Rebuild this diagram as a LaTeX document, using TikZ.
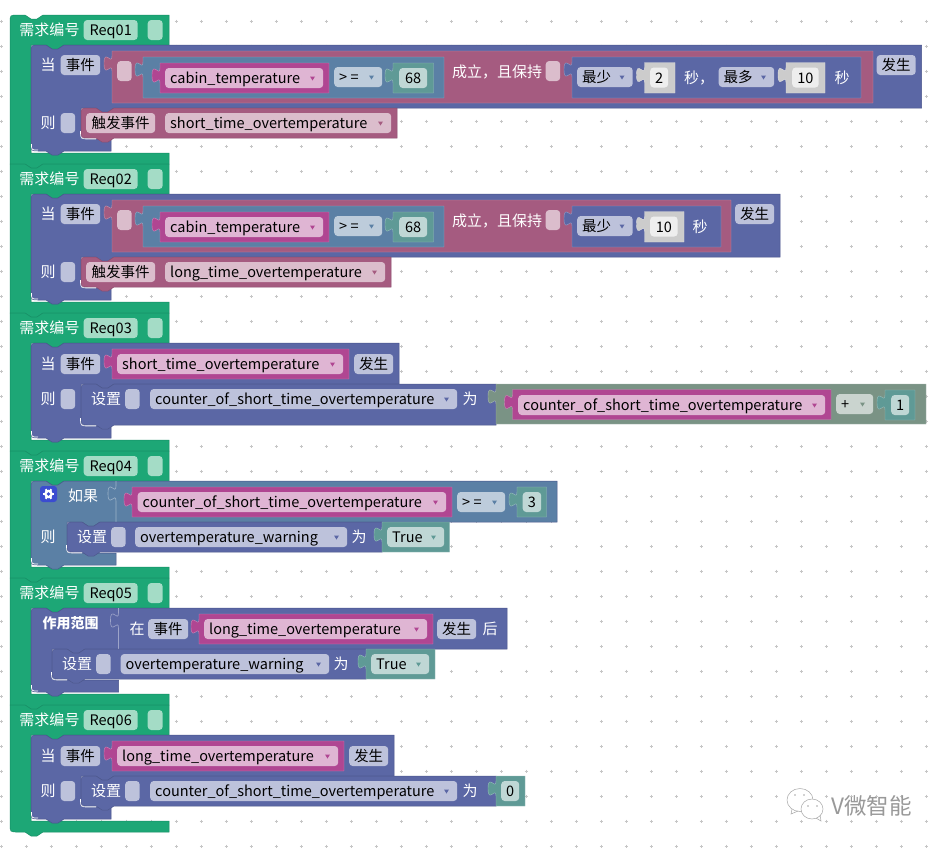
\documentclass[tikz,border=0pt]{standalone}
\usepackage{fontspec}
\setmainfont{Noto Sans CJK SC}
\usepackage{tikz}
\definecolor{reqG}{HTML}{1DA776}
\definecolor{reqGd}{HTML}{178F65}
\definecolor{reqGl}{HTML}{A4DCC6}
\definecolor{whenB}{HTML}{5B67A5}
\definecolor{whenBd}{HTML}{49548C}
\definecolor{whenBl}{HTML}{BDC2DB}
\definecolor{roseR}{HTML}{A55B80}
\definecolor{roseRl}{HTML}{DBBDCC}
\definecolor{magM}{HTML}{B04692}
\definecolor{magMl}{HTML}{DFB5D3}
\definecolor{steelS}{HTML}{5B80A5}
\definecolor{steelSl}{HTML}{BDCCDB}
\definecolor{tealT}{HTML}{5F9A96}
\definecolor{tealTl}{HTML}{BFD7D5}
\definecolor{sageA}{HTML}{7A9385}
\definecolor{sageAl}{HTML}{CAD4CF}
\definecolor{numG}{HTML}{CCCCCC}
\definecolor{numGl}{HTML}{EEEEEE}
\definecolor{gearB}{HTML}{3B4CD0}
\tikzset{
  chipbox/.style={rounded corners=3.5pt,minimum height=20pt,anchor=west,inner sep=0pt,font=\fontsize{14.5}{16}\selectfont,text height=12.5pt,text depth=1.5pt},
  fldtxt/.style={anchor=west,inner sep=0pt,font=\fontsize{14.5}{16}\selectfont,text height=12.5pt,text depth=1.5pt},
  lblW/.style={text=white,inner sep=0pt,font=\fontsize{15}{16}\selectfont,text height=12.5pt,text depth=1.5pt}
}
\newcommand{\reqB}[5]{
\fill[fill=reqG,draw=reqGd,line width=0.5pt] (10,#2+#4) .. controls (10,#2) .. (10+#4,#2) -- (25,#2) -- (31,#2+4) -- (37,#2+4) -- (43,#2) -- (169,#2) -- (169,#2+30) -- (64,#2+30) -- (58,#2+34) -- (52,#2+34) -- (46,#2+30) -- (31,#2+30) -- (31,#3-11) -- (169,#3-11) -- (169,#3) -- (43,#3) -- (37,#3+4) -- (31,#3+4) -- (25,#3) -- (10+#5,#3) .. controls (10,#3) .. (10,#3-#5) -- cycle;
\node[lblW] (hdr#1) at (49.5,#2+15) {需求编号};
\node[chipbox,fill=reqGl,minimum width=54] (req#1) at (83.5,#2+15) {Req0#1};
\node[chipbox,fill=reqGl,minimum width=15] (slot#1) at (147.5,#2+15) {};
}
\newcommand{\capB}[9]{
\fill[fill=#1,draw=whenBd,line width=0.5pt] (#2,#3+8) .. controls (#2,#3) .. (#2+8,#3) -- (#2+15,#3) -- (#2+21,#3+4) -- (#2+27,#3+4) -- (#2+33,#3) -- (#4,#3) -- (#4,#5) -- (#6+33,#5) -- (#6+27,#5+4) -- (#6+21,#5+4) -- (#6+15,#5) -- (#6,#5) -- (#6,#7-8) .. controls (#6,#7) .. (#6+8,#7) -- (#8,#7) -- (#8,#9) -- (#2+33,#9) -- (#2+27,#9+4) -- (#2+21,#9+4) -- (#2+15,#9) -- (#2+8,#9) .. controls (#2,#9) .. (#2,#9-8) -- cycle;
\draw[white,line width=0.7pt] (#2+0.5,#9-7) .. controls (#2+0.5,#9-1) .. (#2+7,#9-1);
}
\newcommand{\stmB}[5]{
\fill[fill=#1,draw=#1!85!black,line width=0.5pt] (#2,#3+8) .. controls (#2,#3) .. (#2+8,#3) -- (#2+15,#3) -- (#2+21,#3+4) -- (#2+27,#3+4) -- (#2+33,#3) -- (#4,#3) -- (#4,#5) -- (#2+33,#5) -- (#2+27,#5+4) -- (#2+21,#5+4) -- (#2+15,#5) -- (#2+8,#5) .. controls (#2,#5) .. (#2,#5-8) -- cycle;
\draw[white,line width=0.6pt] (#2-0.5,#5-7) .. controls (#2-0.5,#5+1) .. (#2+8,#5+1) -- (#2+15,#5+1);
}
\newcommand{\valB}[5]{
\fill[fill=#1,draw=#1!65!white,line width=0.4pt] (#2,#3) -- (#4,#3) -- (#4,#5) -- (#2,#5) -- (#2,#3+20) .. controls (#2,#3+10) and (#2-8,#3+28) .. (#2-8,#3+12.5) .. controls (#2-8,#3-3) and (#2,#3+15) .. (#2,#3+5) -- cycle;
}
\newcommand{\slotT}[3]{
\draw[#3,line width=0.6pt] (#1,#2) -- (#1,#2+5) .. controls (#1,#2+15) and (#1-8,#2-3) .. (#1-8,#2+12.5) .. controls (#1-8,#2+28) and (#1,#2+10) .. (#1,#2+20) -- (#1,#2+41);
}
\newcommand{\chipT}[6]{
\node[chipbox,fill=#5,minimum width=#3-#2] (#1) at (#2,#4+10) {#6};
}
\newcommand{\chipD}[7]{
\node[chipbox,fill=#5,minimum width=#3-#2] (#1) at (#2,#4+10) {};
\node[fldtxt] (#1t) at ([xshift=5pt]#1.west) {#7};
\fill[#6] (#3-13,#4+8.5) -- (#3-8,#4+8.5) -- (#3-10.5,#4+12.5) -- cycle;
}
\begin{document}
\begin{tikzpicture}[x=1pt,y=-1pt]
\useasboundingbox (0,0) rectangle (942,847);
\fill[white] (0,0) rectangle (942,847);
\foreach \gx in {1,26,...,926} \foreach \gy in {21,46,...,846} {
\draw[gray!45,line width=0.5pt] (\gx-1.5,\gy) -- (\gx+1.5,\gy) (\gx,\gy-1.5) -- (\gx,\gy+1.5);
}
\reqB{1}{15}{164}{8}{0}
\capB{whenB}{31}{45}{921.5}{108}{81}{139}{111}{151}
\node[lblW] (when1) at (48,65) {当};
\chipT{evt1}{60.5}{100}{55}{whenBl}{事件}
\valB{roseR}{112}{51}{873}{103}
\node[chipbox,fill=roseRl,minimum width=14.5] (rs1) at (117,71) {};
\valB{steelS}{143}{57}{444}{98}
\valB{magM}{160}{63}{329}{93}
\chipD{var1}{165}{323}{68}{magMl}{magM}{cabin\_temperature}
\chipD{op1}{334}{382}{67}{steelSl}{steelS}{> =}
\valB{tealT}{393}{63}{433.5}{93}
\chipT{num1}{399}{427}{68}{tealTl}{68}
\node[lblW] (hold1) at (497,72) {成立，且保持};
\node[chipbox,fill=roseRl,minimum width=14.5] (rs1b) at (545.5,71) {};
\valB{whenB}{572}{57}{861}{98}
\chipD{min1}{577}{632.5}{67}{whenBl}{whenB}{最少}
\valB{numG}{644.5}{62.5}{675}{93}
\chipT{num1a}{650}{668}{67.5}{numGl}{2}
\node[lblW] (sec1a) at (699,78) {秒，};
\chipD{max1}{718.5}{774}{67}{whenBl}{whenB}{最多}
\valB{numG}{786}{62.5}{825}{93}
\chipT{num1b}{792}{818.5}{67.5}{numGl}{10}
\node[lblW] (sec1b) at (842,78) {秒};
\chipT{occ1}{876.5}{915.5}{55}{whenBl}{发生}
\node[lblW] (then1) at (48,123) {则};
\node[chipbox,fill=whenBl,minimum width=14.5] (ts1) at (60.5,123) {};
\stmB{roseR}{81}{108}{397}{138}
\chipT{act1}{86}{155}{113}{roseRl}{触发事件}
\chipD{ev1}{165}{391}{113}{roseRl}{roseR}{short\_time\_overtemperature}

\reqB{2}{164}{313}{0}{0}
\capB{whenB}{31}{194}{780}{257}{81}{288}{111}{300}
\node[lblW] (when2) at (48,214) {当};
\chipT{evt2}{60.5}{100}{204}{whenBl}{事件}
\valB{roseR}{112}{200}{731}{252}
\node[chipbox,fill=roseRl,minimum width=14.5] (rs2) at (117,220) {};
\valB{steelS}{143}{206}{444}{247}
\valB{magM}{160}{212}{329}{242}
\chipD{var2}{165}{323}{217}{magMl}{magM}{cabin\_temperature}
\chipD{op2}{334}{382}{216}{steelSl}{steelS}{> =}
\valB{tealT}{393}{212}{433.5}{242}
\chipT{num2}{399}{427}{217}{tealTl}{68}
\node[lblW] (hold2) at (497,221) {成立，且保持};
\node[chipbox,fill=roseRl,minimum width=14.5] (rs2b) at (545.5,220) {};
\valB{whenB}{572}{206}{721}{247}
\chipD{min2}{577}{632.5}{216}{whenBl}{whenB}{最少}
\valB{numG}{644.5}{211.5}{684}{242}
\chipT{num2a}{650}{677.5}{216.5}{numGl}{10}
\node[lblW] (sec2) at (700,227) {秒};
\chipT{occ2}{735}{774}{204}{whenBl}{发生}
\node[lblW] (then2) at (48,272) {则};
\node[chipbox,fill=whenBl,minimum width=14.5] (ts2) at (60.5,272) {};
\stmB{roseR}{81}{257}{391}{287}
\chipT{act2}{86}{155}{262}{roseRl}{触发事件}
\chipD{ev2}{165}{385}{262}{roseRl}{roseR}{long\_time\_overtemperature}

\reqB{3}{313}{451}{0}{0}
\capB{whenB}{31}{343}{399}{384}{81}{426}{111}{438}
\node[lblW] (when3) at (48,364) {当};
\chipT{evt3}{60.5}{100}{354}{whenBl}{事件}
\valB{magM}{112}{349}{349}{379}
\chipD{ev3}{117}{343}{354}{magMl}{magM}{short\_time\_overtemperature}
\chipT{occ3}{354}{393}{354}{whenBl}{发生}
\node[lblW] (then3) at (48,399) {则};
\node[chipbox,fill=whenBl,minimum width=14.5] (ts3) at (60.5,399) {};
\stmB{whenB}{81}{384}{496}{425}
\node[lblW] (set3) at (106,399) {设置};
\node[chipbox,fill=whenBl,minimum width=14.5] (ss3) at (125,399) {};
\chipD{cnt3}{150}{457}{389}{whenBl}{whenB}{counter\_of\_short\_time\_overtemperature}
\node[lblW] (as3) at (470,399) {为};
\valB{sageA}{496}{384}{926}{424}
\valB{magM}{512.5}{389.5}{831}{419.5}
\chipD{cnt3b}{518}{825}{395}{magMl}{magM}{counter\_of\_short\_time\_overtemperature}
\chipD{op3}{836}{873}{394}{sageAl}{sageA}{+}
\valB{tealT}{885}{390}{915}{420}
\chipT{num3}{891}{909}{395}{tealTl}{1}

\reqB{4}{451}{578}{0}{0}
\capB{steelS}{31}{481}{557}{522}{67}{553}{116}{565}
\fill[fill=gearB,rounded corners=3pt] (40,486) rectangle (57,502);
\foreach \ga in {0,60,...,300} {
\draw[white,line width=2pt] (48.5,494) -- ++(\ga:5.5);
}
\fill[white] (48.5,494) circle (4.3);
\fill[gearB] (48.5,494) circle (1.9);
\node[lblW] (if4) at (83,496) {如果};
\slotT{116}{481}{steelS!60!white}
\valB{magM}{132}{487}{452}{517}
\chipD{cnt4}{137.5}{446}{492}{magMl}{magM}{counter\_of\_short\_time\_overtemperature}
\chipD{op4}{457}{505}{492}{steelSl}{steelS}{> =}
\valB{tealT}{517}{487}{546.5}{517}
\chipT{num4}{522.5}{541}{492}{tealTl}{3}
\node[lblW] (then4) at (48,537) {则};
\stmB{whenB}{67}{522}{382}{552}
\node[lblW] (set4) at (92,537) {设置};
\node[chipbox,fill=whenBl,minimum width=14.5] (ss4) at (111,537) {};
\chipD{warn4}{135}{347}{527}{whenBl}{whenB}{overtemperature\_warning}
\node[lblW] (as4) at (359,537) {为};
\valB{tealT}{382}{522}{449.5}{552}
\chipD{val4}{387}{444}{527}{tealTl}{tealT}{True}

\reqB{5}{578}{705}{0}{0}
\capB{whenB}{31}{608}{507}{649}{52}{680}{118.5}{692}
\node[lblW,font=\fontsize{14}{16}\bfseries] (scope5) at (70.5,623) {作用范围};
\slotT{118.5}{608}{whenB!60!white}
\node[lblW] (in5) at (137,629) {在};
\chipT{evt5}{148}{188}{619}{whenBl}{事件}
\valB{magM}{199}{614}{433}{644}
\chipD{ev5}{204}{427}{619}{magMl}{magM}{long\_time\_overtemperature}
\chipT{occ5}{437}{476}{619}{whenBl}{发生}
\node[lblW] (after5) at (490,629) {后};
\stmB{whenB}{52}{649}{366}{679}
\node[lblW] (set5) at (77,664) {设置};
\node[chipbox,fill=whenBl,minimum width=14.5] (ss5) at (96,664) {};
\chipD{warn5}{120.5}{329}{654}{whenBl}{whenB}{overtemperature\_warning}
\node[lblW] (as5) at (341,664) {为};
\valB{tealT}{366}{649}{435}{679}
\chipD{val5}{371}{429}{654}{tealTl}{tealT}{True}

\reqB{6}{705}{832}{0}{8}
\capB{whenB}{31}{735}{394}{776}{81}{807}{111}{819}
\node[lblW] (when6) at (48,756) {当};
\chipT{evt6}{60.5}{100}{746}{whenBl}{事件}
\valB{magM}{112}{741}{344}{771}
\chipD{ev6}{117}{338}{746}{magMl}{magM}{long\_time\_overtemperature}
\chipT{occ6}{349}{388}{746}{whenBl}{发生}
\node[lblW] (then6) at (48,791) {则};
\node[chipbox,fill=whenBl,minimum width=14.5] (ts6) at (60.5,791) {};
\stmB{whenB}{81}{776}{496}{806}
\node[lblW] (set6) at (106,791) {设置};
\node[chipbox,fill=whenBl,minimum width=14.5] (ss6) at (125,791) {};
\chipD{cnt6}{150}{457}{781}{whenBl}{whenB}{counter\_of\_short\_time\_overtemperature}
\node[lblW] (as6) at (470,791) {为};
\valB{tealT}{496}{776}{525}{806}
\chipT{num6}{501}{519}{781}{tealTl}{0}

\draw[gray!70,line width=0.5pt,fill=white] (800,800) ellipse (13 and 11.5);
\draw[gray!70,line width=0.5pt] (792,809) -- (791,814) -- (798,811);
\draw[gray!70,line width=0.5pt,fill=white] (812,809) ellipse (11 and 10);
\draw[gray!70,line width=0.5pt] (816,818) -- (821,821) -- (820,815);
\foreach \ex/\ey in {795/795,804/795,808/806,817/806} {
\fill[gray!70] (\ex,\ey) circle (0.9);
}
\node[inner sep=0pt,anchor=west,text=gray!80,font=\fontsize{22.5}{24}\selectfont] (mark) at (831,806) {V微智能};
\end{tikzpicture}
\end{document}
